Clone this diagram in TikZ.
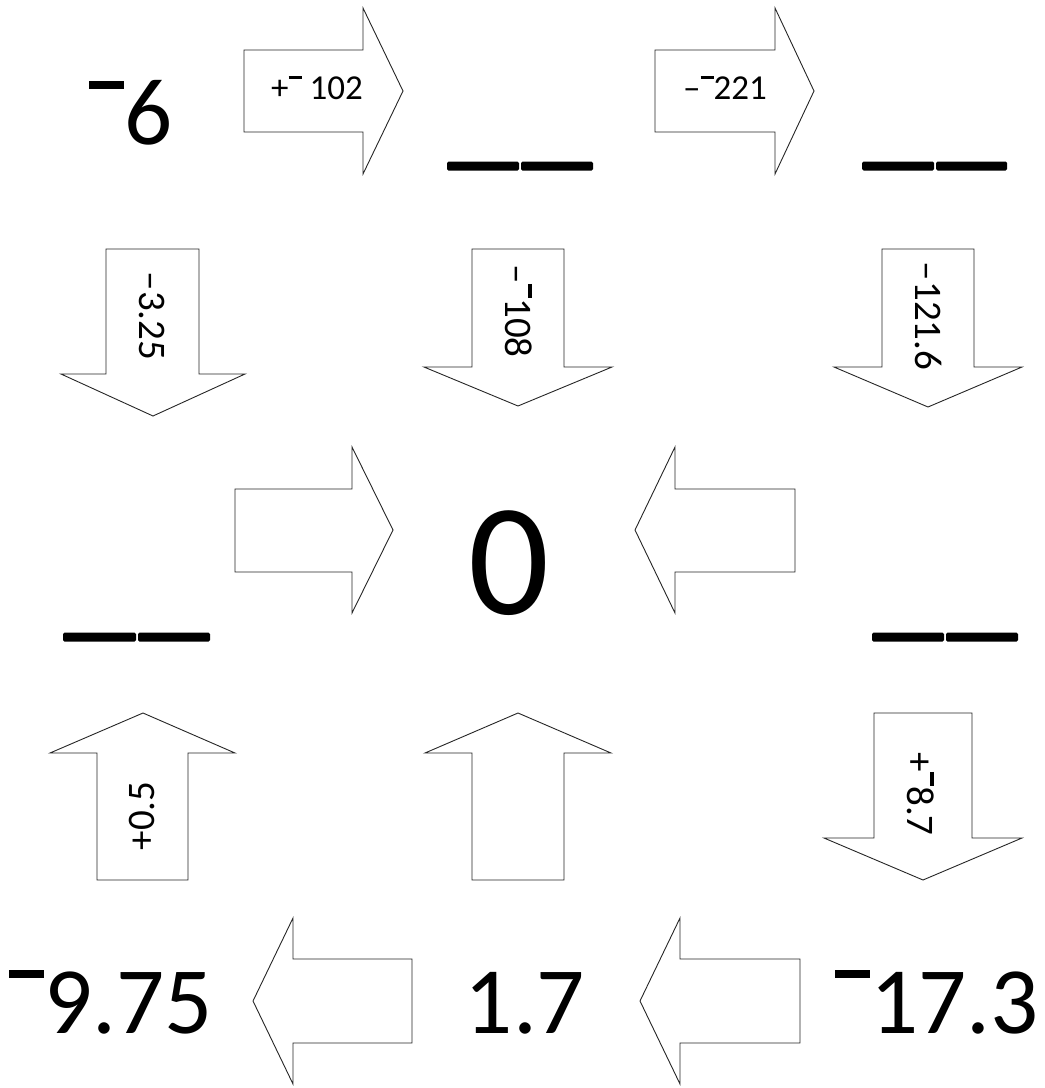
\documentclass[tikz,border=0pt]{standalone}
\usepackage{fontspec}
\setmainfont{Carlito}
\newcommand\rbar{\rule[0.58em]{0.37em}{0.088em}}
\tikzset{
  blockarrow/.style={draw=black!85, line width=0.9pt, fill=white, line join=miter},
  bigtxt/.style={inner sep=0pt, font=\fontsize{95}{95}\selectfont},
  zerotxt/.style={inner sep=0pt, font=\fontsize{160}{160}\selectfont},
  hlbl/.style={inner sep=0pt, font=\fontsize{35}{35}\selectfont},
  vlbl/.style={inner sep=0pt, font=\fontsize{39}{39}\selectfont},
  blank/.style={fill=black, rounded corners=1.5pt}
}
\begin{document}
\begin{tikzpicture}[x=1pt,y=-1pt]
\useasboundingbox (0,0) rectangle (1045,1088);
% ---------- horizontal arrows pointing right ----------
\draw[blockarrow] (244,50) -- (363,50) -- (363,8) -- (403,91) -- (363,174) -- (363,132) -- (244,132) -- cycle;
\draw[blockarrow] (655,50) -- (775,50) -- (775,8) -- (814,91) -- (775,174) -- (775,132) -- (655,132) -- cycle;
\draw[blockarrow] (235,489) -- (352,489) -- (352,447) -- (393,530) -- (352,613) -- (352,572) -- (235,572) -- cycle;
% ---------- horizontal arrows pointing left ----------
\draw[blockarrow] (795,489) -- (675,489) -- (675,447) -- (635,530) -- (675,613) -- (675,572) -- (795,572) -- cycle;
\draw[blockarrow] (412,959) -- (293,959) -- (293,918) -- (253,1001) -- (293,1084) -- (293,1043) -- (412,1043) -- cycle;
\draw[blockarrow] (800,959) -- (680,959) -- (680,918) -- (640,1001) -- (680,1084) -- (680,1043) -- (800,1043) -- cycle;
% ---------- vertical arrows pointing down ----------
\draw[blockarrow] (106,249) -- (199,249) -- (199,374) -- (245,374) -- (153,416) -- (61,374) -- (106,374) -- cycle;
\draw[blockarrow] (472,249) -- (564,249) -- (564,367) -- (612,367) -- (518,406) -- (424,367) -- (472,367) -- cycle;
\draw[blockarrow] (882,249) -- (974,249) -- (974,367) -- (1022,367) -- (928,407) -- (834,367) -- (882,367) -- cycle;
\draw[blockarrow] (874,713) -- (972,713) -- (972,838) -- (1022,838) -- (923,880) -- (824,838) -- (874,838) -- cycle;
% ---------- vertical arrows pointing up ----------
\draw[blockarrow] (97,880) -- (188,880) -- (188,753) -- (235,753) -- (143,713) -- (50,753) -- (97,753) -- cycle;
\draw[blockarrow] (472,880) -- (564,880) -- (564,753) -- (611,753) -- (518,713) -- (425,753) -- (472,753) -- cycle;
% ---------- blanks ----------
\fill[blank] (447,161.5) rectangle (519,170.5);
\fill[blank] (521,161.5) rectangle (593,170.5);
\fill[blank] (862,161.5) rectangle (934,170.5);
\fill[blank] (936,161.5) rectangle (1007,170.5);
\fill[blank] (63,632.5) rectangle (136,641.5);
\fill[blank] (138,632.5) rectangle (210,641.5);
\fill[blank] (872,632.5) rectangle (944,641.5);
\fill[blank] (946,632.5) rectangle (1018,641.5);
% ---------- numbers ----------
\node[bigtxt, anchor=base west] (n6) at (89,144) {\rbar 6};
\node[zerotxt, anchor=base] (n0) at (509,614) {0};
\node[bigtxt, anchor=base west] (n975) at (9,1033) {\rbar 9.75};
\node[bigtxt, anchor=base] (n17) at (525,1033) {1.7};
\node[bigtxt, anchor=base west] (n173) at (835,1033) {\rbar 17.3};
% ---------- arrow labels ----------
\node[hlbl, anchor=base] (l1) at (317,99) {+\rbar\ 102};
\node[hlbl, anchor=base] (l2) at (725,99) {–\rbar 221};
\node[vlbl, rotate=-90] (l3) at (152,316) {–3.25};
\node[vlbl, rotate=-90] (l4) at (519,311) {–\rbar 108};
\node[vlbl, rotate=-90] (l5) at (929,316) {–121.6};
\node[vlbl, rotate=90] (l6) at (142,816) {+0.5};
\node[vlbl, rotate=-90] (l7) at (921,794) {+\rbar 8.7};
\end{tikzpicture}
\end{document}
